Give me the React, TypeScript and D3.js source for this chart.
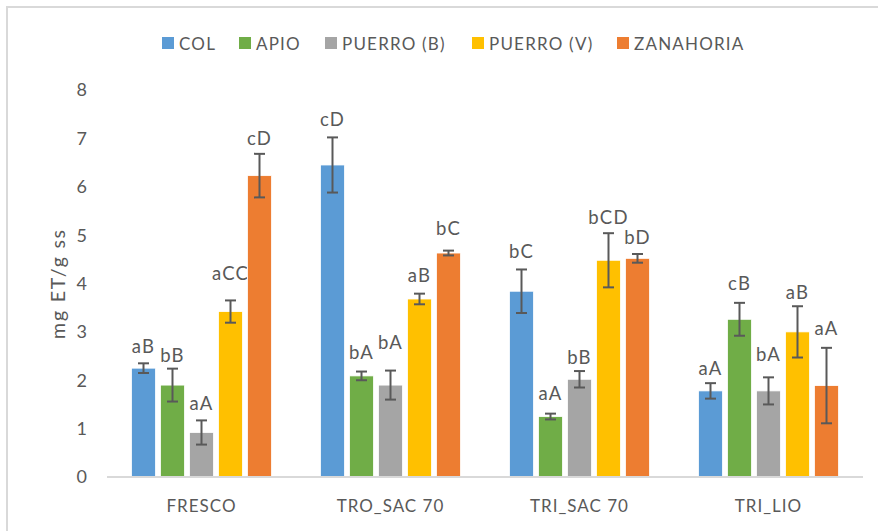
import React from "react";
import * as d3 from "d3";

const categories = ["FRESCO", "TRO_SAC 70", "TRI_SAC 70", "TRI_LIO"];
const seriesNames = ["COL", "APIO", "PUERRO (B)", "PUERRO (V)", "ZANAHORIA"];
const seriesColors = ["#5B9BD5", "#70AD47", "#A5A5A5", "#FFC000", "#ED7D31"];

// values[category][series]
const values = [
  [2.25, 1.9, 0.92, 3.42, 6.23],
  [6.45, 2.09, 1.9, 3.68, 4.63],
  [3.84, 1.25, 2.02, 4.48, 4.52],
  [1.78, 3.26, 1.78, 3.0, 1.89],
];
const errors = [
  [0.1, 0.34, 0.25, 0.23, 0.45],
  [0.57, 0.09, 0.3, 0.11, 0.05],
  [0.45, 0.06, 0.17, 0.56, 0.09],
  [0.16, 0.34, 0.28, 0.53, 0.78],
];
const letters = [
  ["aB", "bB", "aA", "aCC", "cD"],
  ["cD", "bA", "bA", "aB", "bC"],
  ["bC", "aA", "bB", "bCD", "bD"],
  ["aA", "cB", "bA", "aB", "aA"],
];
// distance (px) from error-bar top to label centre
const labelGap = [
  [16.6, 13, 17.4, 27, 16],
  [18.4, 19, 28, 18.3, 22],
  [18.3, 20, 14, 16, 16.7],
  [14.7, 20, 23, 14.3, 19],
];
const yTicks = [0, 1, 2, 3, 4, 5, 6, 7, 8];

const W = 878;
const H = 531;
const plotLeft = 107;
const plotRight = 863;
const plotTop = 90;
const plotBottom = 477;
const font = "Lato, 'Open Sans', sans-serif";
const textColor = "#595959";

export default function App() {
  const x0 = d3.scaleBand<string>().domain(categories).range([plotLeft, plotRight]).paddingInner(0).paddingOuter(0);
  const groupW = 145;
  const x1 = d3
    .scaleBand<string>()
    .domain(seriesNames)
    .range([0, groupW])
    .paddingInner(0.17)
    .paddingOuter(0.085);
  const y = d3.scaleLinear().domain([0, 8]).range([plotBottom, plotTop]);

  const legendX = [162, 239, 325, 472, 617];

  return (
    <svg
      width={W}
      height={H}
      style={{ position: "absolute", left: 0, top: 0, background: "#fff" }}
      fontFamily={font}
    >
      <rect x={0} y={0} width={W} height={H} fill="#fff" />
      {/* chart border */}
      <path d={`M7,${H + 5} V7 H${W + 5}`} fill="none" stroke="#d9d9d9" strokeWidth={2} />

      {/* legend */}
      {seriesNames.map((s, i) => (
        <g key={s}>
          <rect x={legendX[i]} y={37} width={12} height={12} fill={seriesColors[i]} />
          <text
            x={legendX[i] + 17}
            y={43.5}
            dy="0.36em"
            fontSize={17}
            letterSpacing={1.2}
            fill={textColor}
          >
            {s}
          </text>
        </g>
      ))}

      {/* y ticks */}
      {yTicks.map((t) => (
        <text
          key={t}
          x={87}
          y={y(t)}
          dy="0.36em"
          textAnchor="end"
          fontSize={18}
          fill={textColor}
        >
          {t}
        </text>
      ))}

      {/* y title */}
      <text
        transform={`translate(58,${(plotTop + plotBottom) / 2}) rotate(-90)`}
        textAnchor="middle"
        dy="0.36em"
        fontSize={19.5}
        letterSpacing={1.8}
        fill={textColor}
      >
        mg ET/g ss
      </text>

      {/* bars */}
      {categories.map((c, ci) => {
        const gx = (x0(c) as number) + (x0.bandwidth() - groupW) / 2;
        return (
          <g key={c} transform={`translate(${gx},0)`}>
            {seriesNames.map((s, si) => {
              const v = values[ci][si];
              const e = errors[ci][si];
              const bx = x1(s) as number;
              const bw = x1.bandwidth();
              const cx = bx + bw / 2;
              const errTop = y(v + e);
              return (
                <g key={s}>
                  <rect
                    x={bx}
                    y={y(v)}
                    width={bw}
                    height={y(0) - y(v)}
                    fill={seriesColors[si]}
                    stroke="#fff"
                    strokeWidth={0.8}
                  />
                  <g stroke="#595959" strokeWidth={2} fill="none">
                    <line x1={cx} x2={cx} y1={y(v + e)} y2={y(v - e)} />
                    <line x1={cx - 5.5} x2={cx + 5.5} y1={y(v + e)} y2={y(v + e)} />
                    <line x1={cx - 5.5} x2={cx + 5.5} y1={y(v - e)} y2={y(v - e)} />
                  </g>
                  <text
                    x={cx}
                    y={errTop - labelGap[ci][si]}
                    dy="0.36em"
                    textAnchor="middle"
                    fontSize={18.5}
                    letterSpacing={1.2}
                    fill={textColor}
                  >
                    {letters[ci][si]}
                  </text>
                </g>
              );
            })}
          </g>
        );
      })}

      {/* baseline */}
      <line x1={plotLeft} x2={plotRight} y1={plotBottom} y2={plotBottom} stroke="#d9d9d9" strokeWidth={2} />

      {/* category labels */}
      {categories.map((c) => (
        <text
          key={c}
          x={(x0(c) as number) + x0.bandwidth() / 2}
          y={506}
          dy="0.36em"
          textAnchor="middle"
          fontSize={17}
          letterSpacing={1}
          fill={textColor}
        >
          {c}
        </text>
      ))}
    </svg>
  );
}
